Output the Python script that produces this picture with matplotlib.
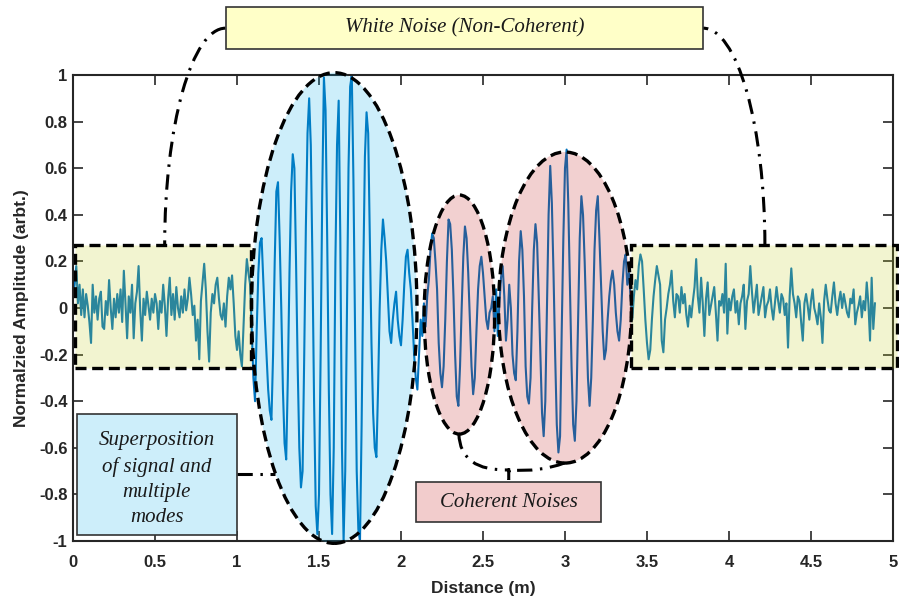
import numpy as np
import matplotlib
matplotlib.use("Agg")
import matplotlib.pyplot as plt
from matplotlib.patches import Ellipse, Rectangle, Arc, PathPatch
from matplotlib.path import Path

plt.rcParams["axes.unicode_minus"] = False

# ---------- data (0.01 m sampling) ----------
dx = 0.01

# 0.00 .. 1.09 m
noise_left = [0.05, 0.10, 0.18, 0.02, 0.10, -0.03, 0.08, -0.04, 0.06, 0.01,
              -0.06, -0.15, 0.10, -0.02, 0.05, -0.05, 0.04, 0.07, -0.08, -0.09,
              0.03, -0.03, 0.12, 0.00, -0.09, 0.04, -0.04, 0.06, -0.02, 0.08,
              -0.06, 0.16, 0.02, -0.13, 0.05, -0.02, 0.10, -0.13, 0.02, 0.07,
              0.18, -0.01, -0.14, 0.04, -0.03, 0.07, 0.01, -0.05, 0.04, -0.02,
              0.06, 0.02, -0.09, 0.03, -0.02, 0.10, 0.01, -0.12, 0.04, 0.13,
              -0.03, 0.06, -0.05, 0.09, 0.00, -0.04, 0.05, -0.02, 0.08, -0.01,
              0.04, 0.13, 0.06, -0.03, 0.01, -0.14, -0.05, -0.22, 0.03, 0.11,
              0.19, 0.08, -0.10, -0.23, -0.02, 0.06, 0.02, 0.10, 0.13, 0.04,
              -0.03, -0.05, 0.02, -0.08, 0.05, 0.13, 0.08, 0.14, 0.02, -0.12,
              -0.18, -0.10, -0.20, -0.25, -0.08, 0.10, 0.21, 0.15, 0.10, -0.10]

# 1.10 .. 2.10 m  (signal + multiple modes)
signal_main = [-0.30, -0.40, -0.10, 0.15, 0.28, 0.30, 0.12, -0.05, -0.20, -0.35,
               -0.44, -0.48, -0.20, 0.20, 0.50, 0.54, 0.30, 0.00, -0.35, -0.58,
               -0.65, -0.30, 0.15, 0.50, 0.66, 0.60, 0.20, -0.25, -0.60, -0.77,
               -0.70, -0.20, 0.35, 0.75, 0.90, 0.70, 0.20, -0.40, -0.85, -0.97,
               -0.80, -0.20, 0.50, 0.99, 0.85, 0.30, -0.35, -0.80, -0.97, -0.60,
               0.20, 0.70, 0.89, 0.30, -0.60, -1.00, -0.70, -0.05, 0.60, 0.95,
               1.00, 0.55, -0.10, -0.70, -0.95, -1.00, -0.50, 0.15, 0.65, 0.84,
               0.75, 0.30, -0.15, -0.45, -0.60, -0.64, -0.35, 0.00, 0.25, 0.38,
               0.30, 0.20, 0.05, -0.10, -0.15, -0.05, 0.02, 0.07, -0.05, -0.12,
               -0.16, -0.05, 0.10, 0.22, 0.25, 0.15, 0.08, -0.05, -0.20, -0.30,
               -0.35]

# 2.11 .. 2.55 m  (first coherent noise)
coherent_1 = [-0.20, -0.05, -0.12, 0.02, -0.08, 0.05, 0.12, 0.25, 0.32, 0.30,
              0.20, 0.08, -0.15, -0.28, -0.34, -0.25, -0.05, 0.20, 0.38, 0.36,
              0.25, 0.05, -0.20, -0.38, -0.42, -0.25, 0.00, 0.22, 0.35, 0.30,
              0.15, -0.05, -0.25, -0.37, -0.30, -0.10, 0.08, 0.18, 0.22, 0.15,
              0.05, -0.05, -0.09, -0.02, 0.00]

# 2.56 .. 3.41 m  (second coherent noise)
coherent_2 = [0.05, -0.10, 0.08, -0.12, 0.02, 0.13, 0.18, 0.05, -0.14, -0.05,
              0.10, 0.00, -0.20, -0.28, -0.31, -0.10, 0.20, 0.33, 0.25, 0.05,
              -0.25, -0.38, -0.41, -0.30, 0.00, 0.25, 0.36, 0.28, 0.05, -0.20,
              -0.45, -0.55, -0.40, 0.00, 0.40, 0.61, 0.45, 0.15, -0.20, -0.50,
              -0.62, -0.55, -0.10, 0.30, 0.60, 0.68, 0.45, 0.10, -0.25, -0.50,
              -0.57, -0.40, -0.05, 0.30, 0.48, 0.40, 0.20, -0.05, -0.30, -0.42,
              -0.30, -0.05, 0.25, 0.42, 0.48, 0.30, 0.10, -0.10, -0.22, -0.18,
              -0.05, 0.05, 0.12, 0.16, 0.10, -0.02, -0.10, -0.14, -0.05, 0.10,
              0.20, 0.23, 0.10, 0.15, 0.05, -0.05]

# 3.42 .. 4.89 m
noise_right = [0.05, 0.12, 0.08, 0.18, 0.23, 0.20, 0.08, -0.05, -0.15, -0.22,
               -0.18, -0.05, 0.05, 0.12, 0.18, 0.14, 0.10, -0.14, -0.19, -0.05,
               0.00, 0.06, 0.10, 0.16, 0.03, -0.04, 0.06, 0.05, -0.02, 0.09,
               0.02, 0.06, -0.03, -0.08, 0.01, -0.04, 0.03, 0.09, 0.21, 0.05,
               -0.02, 0.13, 0.02, -0.12, 0.04, 0.11, -0.03, 0.01, 0.05, 0.09,
               -0.02, -0.14, 0.03, 0.01, 0.06, -0.02, 0.19, -0.11, 0.04, -0.01,
               0.05, 0.08, -0.02, 0.03, -0.07, 0.02, 0.05, 0.10, -0.09, 0.03,
               0.06, 0.18, 0.07, -0.02, 0.04, 0.10, -0.03, 0.01, 0.05, 0.09,
               -0.04, 0.01, 0.03, 0.08, 0.00, -0.05, 0.02, 0.09, 0.03, -0.02,
               0.06, 0.04, -0.03, 0.02, -0.17, 0.05, 0.17, 0.06, 0.02, -0.04,
               0.05, 0.03, -0.06, -0.14, 0.02, 0.06, 0.01, -0.05, 0.03, 0.08,
               0.00, -0.03, -0.07, 0.02, -0.04, -0.15, 0.03, 0.10, 0.04, -0.01,
               -0.02, 0.05, 0.11, 0.02, -0.03, 0.03, 0.07, 0.00, 0.06, 0.02,
               -0.02, -0.04, 0.04, 0.02, 0.08, -0.07, -0.02, 0.01, 0.05, -0.04,
               0.03, -0.01, 0.11, 0.02, -0.14, 0.13, -0.09, 0.02]

amp = np.concatenate([noise_left, signal_main, coherent_1, coherent_2, noise_right])
dist = np.arange(len(amp)) * dx

x_ticks = [0, 0.5, 1, 1.5, 2, 2.5, 3, 3.5, 4, 4.5, 5]
y_ticks = [-1, -0.8, -0.6, -0.4, -0.2, 0, 0.2, 0.4, 0.6, 0.8, 1]

# ---------- plot ----------
fig = plt.figure(figsize=(8.99, 6.02), dpi=100)
ax = fig.add_axes([0.0812, 0.1013, 0.9121, 0.7741])

ax.plot(dist, amp, color="#0072BD", lw=1.5, zorder=2)

ax.set_xlim(0, 5)
ax.set_ylim(-1, 1)
ax.set_xticks(x_ticks)
ax.set_yticks(y_ticks)
ax.set_xticklabels([f"{v:g}" for v in x_ticks])
ax.set_yticklabels([f"{v:g}" for v in y_ticks])
ax.tick_params(direction="in", length=7, width=1.2, top=True, right=True,
               labelsize=12, colors="#262626")
ax.tick_params(axis="x", pad=10)
ax.tick_params(axis="y", pad=4)
for lab in ax.get_xticklabels() + ax.get_yticklabels():
    lab.set_family("Liberation Sans")
    lab.set_fontweight("bold")
for sp in ax.spines.values():
    sp.set_linewidth(1.5)
    sp.set_color("#262626")

ax.set_xlabel("Distance (m)", fontsize=12.5, fontweight="bold",
              family="Liberation Sans", color="#262626", labelpad=8)
ax.set_ylabel("Normalzied Amplitude (arbt.)", fontsize=12.5, fontweight="bold",
              family="Liberation Sans", color="#262626", labelpad=7)

dash = (0, (3.3, 1.7))
dashdot = (0, (5, 2.5, 0.8, 2.5))
yellow = (0.77, 0.82, 0.16, 0.22)
blue = (0.02, 0.67, 0.90, 0.20)
red = (0.75, 0.08, 0.08, 0.20)

# white-noise bands
for x0, x1 in [(0.012, 1.088), (3.404, 5.025)]:
    ax.add_patch(Rectangle((x0, -0.257), x1 - x0, 0.527, facecolor=yellow,
                           edgecolor="k", lw=2.4, ls=dash, zorder=3, clip_on=False))

# signal + modes ellipse, coherent noise ellipses
ax.add_patch(Ellipse((1.593, 0.0), 1.009, 2.02, facecolor=blue, edgecolor="k",
                     lw=2.4, ls=dash, zorder=3, clip_on=False))
ax.add_patch(Ellipse((2.356, -0.028), 0.43, 1.026, facecolor=red, edgecolor="k",
                     lw=2.4, ls=dash, zorder=3, clip_on=False))
ax.add_patch(Ellipse((3.0, 0.002), 0.81, 1.335, facecolor=red, edgecolor="k",
                     lw=2.4, ls=dash, zorder=3, clip_on=False))

# white-noise connectors (quarter arcs up to the label)
ax.add_patch(Arc((0.93, 0.27), 0.742, 1.862, theta1=90, theta2=180, color="k",
                 lw=2.2, ls=dashdot, zorder=3, clip_on=False))
ax.add_patch(Arc((3.842, 0.27), 0.754, 1.862, theta1=0, theta2=90, color="k",
                 lw=2.2, ls=dashdot, zorder=3, clip_on=False))

# superposition connector
ax.plot([0.997, 1.23], [-0.712, -0.712], color="k", lw=2.2, ls=dashdot, zorder=3)

# coherent noise brace
brace = Path([(2.353, -0.541), (2.36, -0.70), (2.657, -0.695), (2.657, -0.738),
              (2.997, -0.665), (2.85, -0.705), (2.66, -0.695), (2.657, -0.738)],
             [Path.MOVETO, Path.CURVE3, Path.CURVE3, Path.LINETO,
              Path.MOVETO, Path.CURVE3, Path.CURVE3, Path.LINETO])
ax.add_patch(PathPatch(brace, fill=False, color="k", lw=2.2, ls=dashdot,
                       zorder=3, clip_on=False))

# label boxes
box_font = dict(family="Liberation Serif", style="italic", fontsize=15,
                color="#1a1a1a", ha="center", va="center", zorder=6)
ax.add_patch(Rectangle((0.93, 1.112), 2.912, 0.18, facecolor="#ffffc8",
                       edgecolor="#333333", lw=1.2, zorder=5, clip_on=False))
ax.text(2.386, 1.202, "White Noise (Non-Coherent)", **box_font)

ax.add_patch(Rectangle((0.024, -0.974), 0.973, 0.519, facecolor="#cdeefa",
                       edgecolor="#333333", lw=1.2, zorder=5, clip_on=False))
ax.text(0.51, -0.735, "Superposition\nof signal and\nmultiple\nmodes",
        linespacing=1.45, **box_font)

ax.add_patch(Rectangle((2.091, -0.918), 1.131, 0.171, facecolor="#f2cccc",
                       edgecolor="#333333", lw=1.2, zorder=5, clip_on=False))
ax.text(2.657, -0.833, "Coherent Noises", **box_font)

fig.savefig("out.png", dpi=100)
